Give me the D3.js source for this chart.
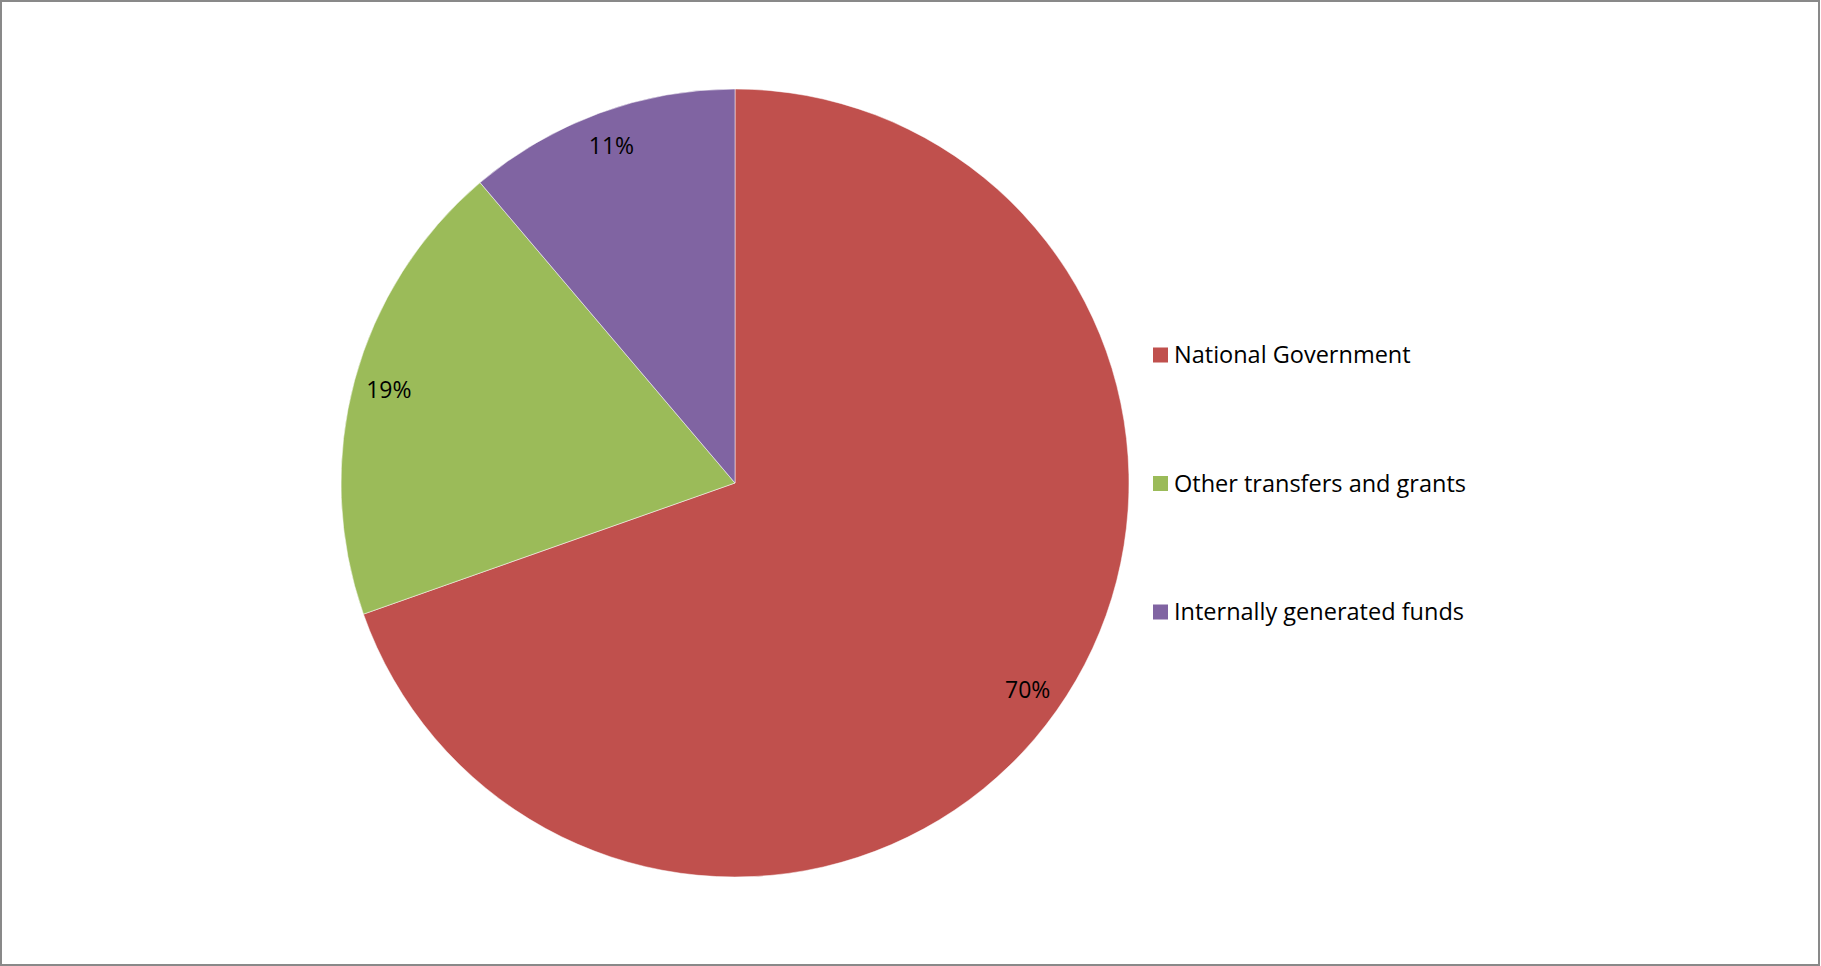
<!DOCTYPE html>
<html>
<head>
<meta charset="utf-8">
<script src="https://cdn.jsdelivr.net/npm/d3@7"></script>
<style>
  body { margin: 0; background: #fff; }
  text { font-family: "Open Sans", "Noto Sans", sans-serif; }
</style>
</head>
<body>
<div id="chart"></div>
<script>
// data
const categories = ["National Government", "Other transfers and grants", "Internally generated funds"];
const values = [69.6, 19.2, 11.2];
const labels = ["70%", "19%", "11%"];
const colors = ["#c0504d", "#9bbb59", "#8064a2"];

const w = 1821;
const h = 966;

const svg = d3.select("#chart")
  .append("svg")
  .attr("width", w)
  .attr("height", h);

// frame
svg.append("rect")
  .attr("x", 1)
  .attr("y", 1)
  .attr("width", 1818)
  .attr("height", 964)
  .attr("fill", "white")
  .attr("stroke", "#898989")
  .attr("stroke-width", 2);

const cx = 735, cy = 483, r = 394;

const pie = d3.pie().sort(null).value(d => d);
const arcs = pie(values);

const arc = d3.arc().innerRadius(0).outerRadius(r);
const labelArc = d3.arc().innerRadius(r * 0.91).outerRadius(r * 0.91);

const g = svg.append("g")
  .attr("transform", `translate(${cx},${cy})`);

g.selectAll("path")
  .data(arcs)
  .enter()
  .append("path")
  .attr("d", arc)
  .attr("fill", (d, i) => colors[i])
  .attr("stroke", "white")
  .attr("stroke-width", 0.5);

g.selectAll("text.lbl")
  .data(arcs)
  .enter()
  .append("text")
  .attr("class", "lbl")
  .attr("transform", d => `translate(${labelArc.centroid(d)})`)
  .attr("text-anchor", "middle")
  .attr("dy", "0.35em")
  .attr("font-size", 23)
  .attr("fill", "#000")
  .text((d, i) => labels[i]);

// legend
const legend = svg.append("g")
  .attr("transform", "translate(1153,355)");

const item = legend.selectAll("g")
  .data(categories)
  .enter()
  .append("g")
  .attr("transform", (d, i) => `translate(0,${i * 128.5})`);

item.append("rect")
  .attr("x", 0)
  .attr("y", -7.5)
  .attr("width", 15)
  .attr("height", 15)
  .attr("fill", (d, i) => colors[i]);

item.append("text")
  .attr("x", 21)
  .attr("dy", "0.35em")
  .attr("font-size", 23.5)
  .attr("fill", "#000")
  .text(d => d);
</script>
</body>
</html>
